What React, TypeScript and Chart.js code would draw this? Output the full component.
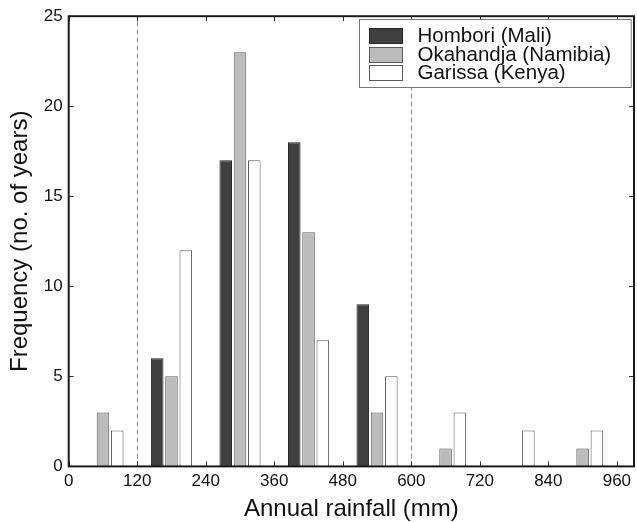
import React, { useEffect, useRef } from "react";
import { Chart, registerables } from "chart.js";

Chart.register(...registerables);

const binCenters = [60, 180, 300, 420, 540, 660, 780, 900];
const hombori = [0, 6, 17, 18, 9, 0, 0, 0];
const okahandja = [3, 5, 23, 13, 3, 1, 0, 1];
const garissa = [2, 12, 17, 7, 5, 3, 2, 2];
const seriesNames = ["Hombori (Mali)", "Okahandja (Namibia)", "Garissa (Kenya)"];
const thresholds = [120, 600];
const xTitle = "Annual rainfall (mm)";
const yTitle = "Frequency (no. of years)";

const FONT = "'Liberation Sans', Arial, Helvetica, sans-serif";

const fills = ["#3f3f3f", "#bcbcbc", "#ffffff"];
const borders = ["#262626", "#5a5a5a", "#5a5a5a"];

const framePlugin = {
  id: "frame",
  beforeDatasetsDraw(chart: any) {
    const { ctx, chartArea: a, scales } = chart;
    ctx.save();
    ctx.strokeStyle = "#8a8a8a";
    ctx.lineWidth = 1;
    ctx.setLineDash([5, 3]);
    for (const t of thresholds) {
      const x = Math.round(scales.x.getPixelForValue(t)) + 0.5;
      ctx.beginPath();
      ctx.moveTo(x, a.bottom);
      ctx.lineTo(x, a.top);
      ctx.stroke();
    }
    ctx.restore();
  },
  afterDraw(chart: any) {
    const { ctx, chartArea: a, scales } = chart;
    ctx.save();
    ctx.strokeStyle = "#333";
    ctx.lineWidth = 1;
    const tl = 5;
    for (const t of scales.x.ticks) {
      const x = Math.round(scales.x.getPixelForValue(t.value)) + 0.5;
      ctx.beginPath();
      ctx.moveTo(x, a.bottom);
      ctx.lineTo(x, a.bottom - tl);
      ctx.moveTo(x, a.top);
      ctx.lineTo(x, a.top + tl);
      ctx.stroke();
    }
    for (const t of scales.y.ticks) {
      const y = Math.round(scales.y.getPixelForValue(t.value)) + 0.5;
      ctx.beginPath();
      ctx.moveTo(a.left, y);
      ctx.lineTo(a.left + tl, y);
      ctx.moveTo(a.right, y);
      ctx.lineTo(a.right - tl, y);
      ctx.stroke();
    }
    ctx.strokeStyle = "#1a1a1a";
    ctx.lineWidth = 2;
    ctx.strokeRect(a.left, a.top, a.right - a.left, a.bottom - a.top);

    // legend
    const fs = 20.5;
    ctx.font = `${fs}px ${FONT}`;
    let maxW = 0;
    for (const n of seriesNames) maxW = Math.max(maxW, ctx.measureText(n).width);
    const textOff = 58;
    const boxW = textOff + maxW + 20;
    const rowH = 18.5;
    const boxH = 16 + 2 * rowH + 15;
    const bx = Math.round(a.right - 3 - boxW) + 0.5;
    const by = Math.round(a.top + 3) + 0.5;
    ctx.fillStyle = "#fff";
    ctx.fillRect(bx, by, boxW, boxH);
    ctx.strokeStyle = "#777";
    ctx.lineWidth = 1;
    ctx.strokeRect(bx, by, boxW, boxH);
    ctx.textBaseline = "middle";
    ctx.textAlign = "left";
    seriesNames.forEach((n, i) => {
      const cy = by + 16 + i * rowH;
      ctx.fillStyle = fills[i];
      ctx.fillRect(bx + 10, Math.round(cy - 7.5), 33, 15);
      ctx.strokeStyle = borders[i];
      ctx.strokeRect(bx + 10, Math.round(cy - 7.5) + 0.5, 33, 15);
      ctx.fillStyle = "#111";
      ctx.fillText(n, bx + textOff, cy + 1);
    });
    ctx.restore();
  },
};

export default function App() {
  const ref = useRef<HTMLCanvasElement>(null);
  useEffect(() => {
    const series = [hombori, okahandja, garissa];
    const chart = new Chart(ref.current as HTMLCanvasElement, {
      type: "bar",
      data: {
        datasets: series.map((s, i) => ({
          label: seriesNames[i],
          data: s.map((v, j) => ({ x: binCenters[j], y: v })),
          backgroundColor: fills[i],
          borderColor: borders[i],
          borderWidth: 1,
          borderSkipped: "start",
          categoryPercentage: 0.625,
          barPercentage: 0.88,
        })),
      },
      options: {
        animation: false,
        responsive: false,
        maintainAspectRatio: false,
        layout: { padding: { left: 4, right: 3, top: 15, bottom: 0 } },
        plugins: {
          legend: { display: false },
          tooltip: { enabled: false },
        },
        scales: {
          x: {
            type: "linear",
            min: 0,
            max: 990,
            offset: false,
            grid: { display: false, drawTicks: false },
            border: { display: false },
            ticks: {
              stepSize: 120,
              includeBounds: false,
              autoSkip: false,
              maxRotation: 0,
              padding: 5,
              color: "#111",
              font: { family: FONT, size: 17 },
            },
            title: {
              display: true,
              text: xTitle,
              color: "#111",
              font: { family: FONT, size: 24, lineHeight: 1.05 },
              padding: { top: 0, bottom: 0 },
            },
          },
          y: {
            min: 0,
            max: 25,
            grid: { display: false, drawTicks: false },
            border: { display: false },
            ticks: {
              stepSize: 5,
              padding: 6,
              color: "#111",
              font: { family: FONT, size: 17 },
            },
            title: {
              display: true,
              text: yTitle,
              color: "#111",
              font: { family: FONT, size: 24 },
              padding: { top: 2, bottom: 3 },
            },
          },
        },
      },
      plugins: [framePlugin],
    } as any);
    return () => chart.destroy();
  }, []);
  return (
    <div style={{ position: "fixed", left: 0, top: 0, width: 637, height: 522, background: "#fff" }}>
      <canvas ref={ref} width={637} height={522} style={{ display: "block" }} />
    </div>
  );
}
